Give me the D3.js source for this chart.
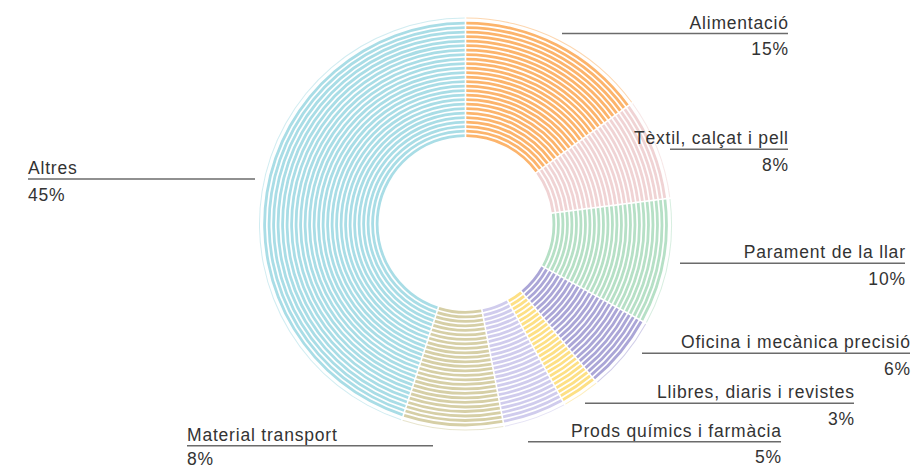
<!DOCTYPE html>
<html>
<head>
<meta charset="utf-8">
<script src="https://cdn.jsdelivr.net/npm/d3@7"></script>
<style>
  body { margin: 0; background: #fff; }
  text { font-family: "Liberation Sans", Arial, sans-serif; font-size: 17.5px; fill: #333; letter-spacing: 0.8px; }
</style>
</head>
<body>
<div id="chart"></div>
<script>
// sectors, clockwise from 12 o'clock
const categories = ["Alimentació", "Tèxtil, calçat i pell", "Parament de la llar", "Oficina i mecànica precisió",
                    "Llibres, diaris i revistes", "Prods químics i farmàcia", "Material transport", "Altres"];
const shares = [15, 8, 10, 6, 3, 5, 8, 45];
const colors = ["#fcb46c", "#f0d3d4", "#b6e0c6", "#aba6d7", "#fde085", "#d0cced", "#d6cfa6", "#a9dde6"];

// hand placed label layout (anchor side, text x, leader y, other end of leader)
const labelLayout = [
  { anchor: "end",   x: 788, y: 33.5,  x2: 562 },
  { anchor: "end",   x: 788, y: 149.3, x2: 670 },
  { anchor: "end",   x: 905, y: 263.3, x2: 680 },
  { anchor: "end",   x: 910, y: 353.3, x2: 642 },
  { anchor: "end",   x: 854, y: 403.3, x2: 585 },
  { anchor: "end",   x: 781, y: 441.7, x2: 528 },
  { anchor: "start", x: 187, y: 445.7, x2: 433 },
  { anchor: "start", x: 28,  y: 179,   x2: 255 }
];

const width = 916, height = 468;
const cx = 465.5, cy = 224;
const innerR = 87, ringCount = 26, pitch = 4.5, ringW = 2.8, outerR = 206;

const svg = d3.select("#chart").append("svg")
    .attr("width", width)
    .attr("height", height);

const pie = d3.pie().sort(null).value(d => d);
const arcs = pie(shares);

const g = svg.append("g").attr("transform", `translate(${cx},${cy})`);

const rings = d3.range(ringCount);
const arc = d3.arc().padRadius(200).padAngle(1.6 / 200);

arcs.forEach((a, i) => {
  const slice = g.append("g");
  // striped rings
  slice.selectAll("path.ring")
    .data(rings)
    .enter().append("path")
    .attr("class", "ring")
    .attr("d", k => arc({
      startAngle: a.startAngle, endAngle: a.endAngle,
      innerRadius: innerR + k * pitch, outerRadius: innerR + k * pitch + ringW
    }))
    .attr("fill", colors[i]);
  // faint outer rim
  slice.append("path")
    .attr("d", arc({ startAngle: a.startAngle, endAngle: a.endAngle, innerRadius: outerR - 0.5, outerRadius: outerR + 0.5 }))
    .attr("fill", colors[i])
    .attr("opacity", 0.55);
});

// labels
const lab = svg.append("g");
categories.forEach((name, i) => {
  const L = labelLayout[i];
  const tx = L.anchor === "end" ? L.x + 0.8 : L.x;
  lab.append("line")
    .attr("x1", Math.min(L.x, L.x2)).attr("x2", Math.max(L.x, L.x2))
    .attr("y1", L.y).attr("y2", L.y)
    .attr("stroke", "#6b6b6b")
    .attr("stroke-width", 1.5);
  lab.append("text")
    .attr("x", tx).attr("y", L.y - 5)
    .attr("text-anchor", L.anchor)
    .text(name);
  lab.append("text")
    .attr("x", tx).attr("y", Math.min(L.y + 21.5, height - 3))
    .attr("text-anchor", L.anchor)
    .text(shares[i] + "%");
});
</script>
</body>
</html>
